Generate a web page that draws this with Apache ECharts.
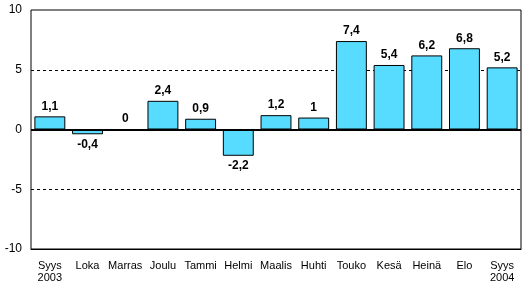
<!DOCTYPE html>
<html><head><meta charset="utf-8">
<script src="https://cdn.jsdelivr.net/npm/echarts@6/dist/echarts.min.js"></script>
<style>html,body{margin:0;padding:0;background:#fff}#c{width:525px;height:284px}</style>
</head><body><div id="c"></div>
<script>
const categories = ['Syys\n2003','Loka','Marras','Joulu','Tammi','Helmi','Maalis','Huhti','Touko','Kesä','Heinä','Elo','Syys\n2004'];
const values = [1.1, -0.4, 0, 2.4, 0.9, -2.2, 1.2, 1, 7.4, 5.4, 6.2, 6.8, 5.2];
const yTicks = [-10, -5, 0, 5, 10];

const chart = echarts.init(document.getElementById('c'));
chart.setOption({
  animation: false,
  grid: {left: 31, right: 4, top: 10, bottom: 33, show: true, borderColor: '#000', borderWidth: 1},
  xAxis: {
    type: 'category', data: categories,
    axisLine: {onZero: false, lineStyle: {color: '#000'}},
    axisTick: {show: false},
    axisLabel: {color: '#000', fontFamily: 'Liberation Sans, Arial', fontSize: 11, lineHeight: 12, margin: 11, interval: 0}
  },
  yAxis: {
    type: 'value', min: yTicks[0], max: yTicks[yTicks.length-1], interval: 5,
    axisLine: {show: false}, axisTick: {show: false},
    axisLabel: {color: '#000', fontFamily: 'Liberation Sans, Arial', fontSize: 12, margin: 9},
    splitLine: {show: true, lineStyle: {type: [3,3], color: yTicks.map(v => (v === 5 || v === -5) ? '#000' : 'rgba(0,0,0,0)')}}
  },
  series: [{
    type: 'bar',
    barCategoryGap: '18%',
    data: values.map(v => ({value: v, label: {position: v < 0 ? 'bottom' : 'top'}})),
    itemStyle: {color: '#57DCFF', borderColor: '#000', borderWidth: 1},
    label: {show: true, distance: 4, color: '#000', fontWeight: 'bold', fontFamily: 'Liberation Sans, Arial', fontSize: 12,
      formatter: p => String(p.value).replace('.', ',')},
    markLine: {silent: true, symbol: 'none', label: {show: false}, lineStyle: {color: '#000', width: 2, type: 'solid'}, data: [{yAxis: 0}]}
  }]
});
</script></body></html>
